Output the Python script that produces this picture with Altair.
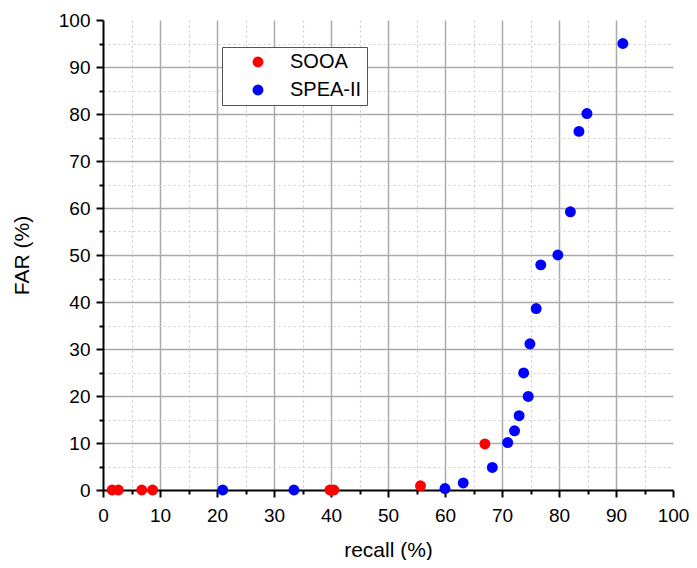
import altair as alt
import pandas as pd

sooa_recall = [1.6, 2.7, 6.8, 8.7, 39.8, 40.5, 55.7, 67.0]
sooa_far = [0.0, 0.0, 0.0, 0.0, 0.0, 0.0, 0.9, 9.8]

spea_recall = [21.0, 33.5, 60.0, 63.2, 68.3, 71.0, 72.2, 73.0, 74.6, 73.8,
               74.9, 76.0, 76.8, 79.8, 82.0, 83.5, 84.9, 91.2]
spea_far = [0.0, 0.0, 0.3, 1.5, 4.8, 10.1, 12.6, 15.8, 19.9, 24.9,
            31.1, 38.6, 47.9, 50.0, 59.2, 76.3, 80.1, 95.0]

major = list(range(0, 101, 10))
minor = list(range(5, 100, 10))

df = pd.concat([
    pd.DataFrame({"recall": sooa_recall, "far": sooa_far, "method": "SOOA"}),
    pd.DataFrame({"recall": spea_recall, "far": spea_far, "method": "SPEA-II"}),
])

font = "Liberation Sans"
xscale = alt.Scale(domain=[0, 100], nice=False, zero=False)
yscale = alt.Scale(domain=[0, 100], nice=False, zero=False)

grid_op = {"condition": {"test": "datum.value >= 100 || datum.value <= 0", "value": 0}, "value": 1}

minor_layer = alt.Chart(df).mark_point(opacity=0).encode(
    x=alt.X("recall:Q", scale=xscale, axis=alt.Axis(
        values=minor, labels=False, title=None, orient="bottom", domain=False,
        tickSize=4, tickWidth=2, tickColor="black",
        grid=True, gridColor="#cccccc", gridDash=[2, 3], gridWidth=1.2)),
    y=alt.Y("far:Q", scale=yscale, axis=alt.Axis(
        values=minor, labels=False, title=None, orient="left", domain=False,
        tickSize=4, tickWidth=2, tickColor="black",
        grid=True, gridColor="#cccccc", gridDash=[2, 3], gridWidth=1.2)),
)

main_layer = alt.Chart(df).mark_circle(size=120, opacity=1).encode(
    x=alt.X("recall:Q", scale=xscale, axis=alt.Axis(
        values=major, title="recall (%)", orient="bottom", labelFlush=False,
        domainColor="black", domainWidth=2, tickColor="black", tickWidth=2, tickSize=7,
        labelFontSize=19, labelFont=font, labelColor="black", labelPadding=9,
        titleFontSize=21, titleFont=font, titleColor="black", titleFontWeight="normal",
        titlePadding=14,
        grid=True, gridColor="#aaaaaa", gridWidth=1.5, gridOpacity=grid_op)),
    y=alt.Y("far:Q", scale=yscale, axis=alt.Axis(
        values=major, title="FAR (%)", orient="left", labelFlush=False,
        domainColor="black", domainWidth=2, tickColor="black", tickWidth=2, tickSize=7,
        labelFontSize=19, labelFont=font, labelColor="black", labelPadding=6,
        titleFontSize=21, titleFont=font, titleColor="black", titleFontWeight="normal",
        titlePadding=26,
        grid=True, gridColor="#aaaaaa", gridWidth=1.5, gridOpacity=grid_op)),
    color=alt.Color("method:N", scale=alt.Scale(domain=["SOOA", "SPEA-II"], range=["#ff0000", "#0000ff"]),
                    legend=alt.Legend(title=None, orient="none", legendX=119, legendY=27,
                                      labelFontSize=20, labelFont=font, labelColor="black",
                                      symbolType="circle", symbolSize=120, symbolStrokeWidth=0,
                                      strokeColor="#555555", fillColor="white", padding=5,
                                      rowPadding=8, labelOffset=22, symbolOffset=21,
                                      labelLimit=200)),
)

chart = alt.layer(minor_layer, main_layer).resolve_axis(x="independent", y="independent").properties(
    width=570, height=470,
    autosize=alt.AutoSizeParams(type="none"),
    padding={"left": 95, "top": 12, "right": 16, "bottom": 70},
    background="white",
).configure_view(stroke=None)

chart.save("out.html", embed_options={"renderer": "svg", "actions": False})
